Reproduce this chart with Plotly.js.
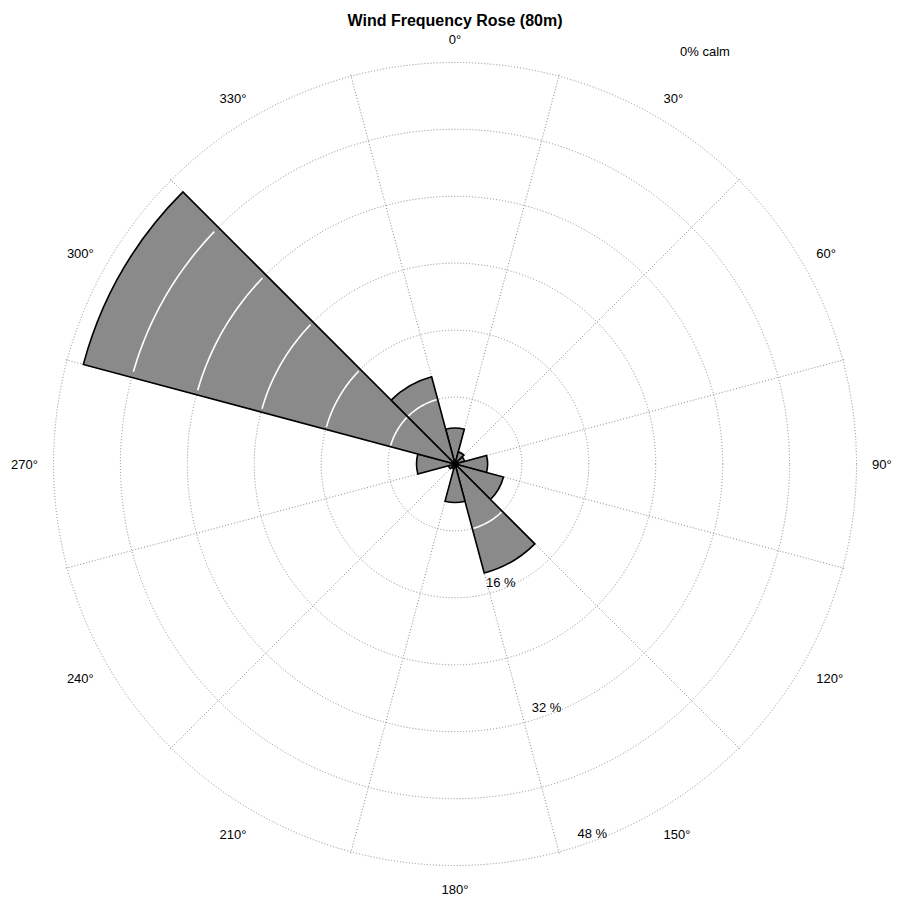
<!DOCTYPE html>
<html>
<head>
<meta charset="utf-8">
<script src="https://cdn.plot.ly/plotly-3.0.1.min.js"></script>
<style>html,body{margin:0;padding:0;background:#fff;}#chart{width:900px;height:899px;}</style>
</head>
<body>
<div id="chart"></div>
<script>
// Wind direction sectors (degrees, centre of each 30° sector)
var directions = [0, 30, 60, 90, 120, 150, 180, 210, 240, 270, 300, 330];
// Frequency (%) per sector
var frequency = [4.3, 1.5, 1.2, 3.9, 6.0, 13.5, 4.6, 0.6, 0.8, 4.6, 46.0, 10.8];
// Radial rings (%) and their labels
var ringValues = [8, 16, 24, 32, 40, 48];
var ringLabels = ["", "16 %", "", "32 %", "", "48 %"];
var ringLabelBearing = 160;
// Angular labels
var angleTicks = [0, 30, 60, 90, 120, 150, 180, 210, 240, 270, 300, 330];
var angleLabels = ["0°", "30°", "60°", "90°", "120°", "150°", "180°", "210°", "240°", "270°", "300°", "330°"];
// Sector boundaries (grid spokes)
var spokeTicks = [15, 45, 75, 105, 135, 165, 195, 225, 255, 285, 315, 345];
var sectorWidth = 30;
var calmText = "0% calm";
var titleText = "Wind Frequency Rose (80m)";

// white ring segments where the rings cross the bars
var arcR = [], arcT = [];
for (var i = 0; i < directions.length; i++) {
  for (var k = 0; k < ringValues.length; k++) {
    var g = ringValues[k];
    if (g < frequency[i] - 0.3) {
      for (var a = -sectorWidth / 2 + 1; a <= sectorWidth / 2 - 1; a += 1) {
        arcR.push(g); arcT.push(directions[i] + a);
      }
      arcR.push(null); arcT.push(null);
    }
  }
}

// ring labels placed along one bearing
var lblR = [], lblT = [], lblS = [];
for (var j = 0; j < ringValues.length; j++) {
  if (ringLabels[j]) { lblR.push(ringValues[j]); lblT.push(ringLabelBearing); lblS.push(ringLabels[j]); }
}

var font = "Liberation Sans, Arial, sans-serif";

var traces = [
  {
    type: "barpolar",
    r: frequency,
    theta: directions,
    width: directions.map(function () { return sectorWidth; }),
    marker: { color: "#8a8a8a", line: { color: "#000", width: 1.6 } },
    subplot: "polar",
    hoverinfo: "skip"
  },
  {
    type: "scatterpolar",
    mode: "lines",
    r: arcR,
    theta: arcT,
    line: { color: "#ffffff", width: 1.6 },
    connectgaps: false,
    subplot: "polar",
    hoverinfo: "skip"
  },
  {
    type: "scatterpolar",
    mode: "text",
    r: lblR,
    theta: lblT,
    text: lblS,
    textposition: "top center",
    textfont: { family: font, size: 13, color: "#000" },
    cliponaxis: false,
    subplot: "polar",
    hoverinfo: "skip"
  },
  {
    type: "scatterpolar",
    mode: "markers",
    r: directions.map(function () { return 0; }),
    theta: directions,
    marker: { size: 1, opacity: 0 },
    subplot: "polar2",
    hoverinfo: "skip"
  }
];

var domain = { x: [51 / 900, 859 / 900], y: [31 / 899, 839 / 899] };

var layout = {
  width: 900,
  height: 899,
  margin: { l: 0, r: 0, t: 0, b: 0 },
  paper_bgcolor: "#fff",
  showlegend: false,
  title: {
    text: "<b>" + titleText + "</b>",
    x: 455 / 900, xanchor: "center",
    y: 1 - 20 / 899, yanchor: "middle",
    font: { family: font, size: 16, color: "#000" }
  },
  polar: {
    domain: domain,
    bgcolor: "#fff",
    bargap: 0,
    radialaxis: {
      range: [0, 48.3],
      tickvals: ringValues,
      showticklabels: false,
      showline: false,
      ticks: "",
      gridcolor: "#8a8a8a",
      griddash: "1px,2px",
      gridwidth: 1
    },
    angularaxis: {
      rotation: 90,
      direction: "clockwise",
      tickvals: spokeTicks,
      showticklabels: false,
      ticks: "",
      showline: false,
      gridcolor: "#8a8a8a",
      griddash: "1px,2px",
      gridwidth: 1
    }
  },
  polar2: {
    domain: domain,
    bgcolor: "rgba(0,0,0,0)",
    radialaxis: { visible: false, range: [0, 48.3] },
    angularaxis: {
      rotation: 90,
      direction: "clockwise",
      tickvals: angleTicks,
      ticktext: angleLabels,
      showgrid: false,
      showline: false,
      ticks: "outside",
      ticklen: 10,
      tickcolor: "rgba(0,0,0,0)",
      tickfont: { family: font, size: 13, color: "#000" }
    }
  },
  annotations: [
    {
      text: calmText, xref: "paper", yref: "paper",
      x: 705 / 900, y: 1 - 52 / 899, xanchor: "center", yanchor: "middle",
      showarrow: false, font: { family: font, size: 13, color: "#000" }
    }
  ]
};

Plotly.newPlot("chart", traces, layout, { displayModeBar: false, staticPlot: true });
</script>
</body>
</html>
